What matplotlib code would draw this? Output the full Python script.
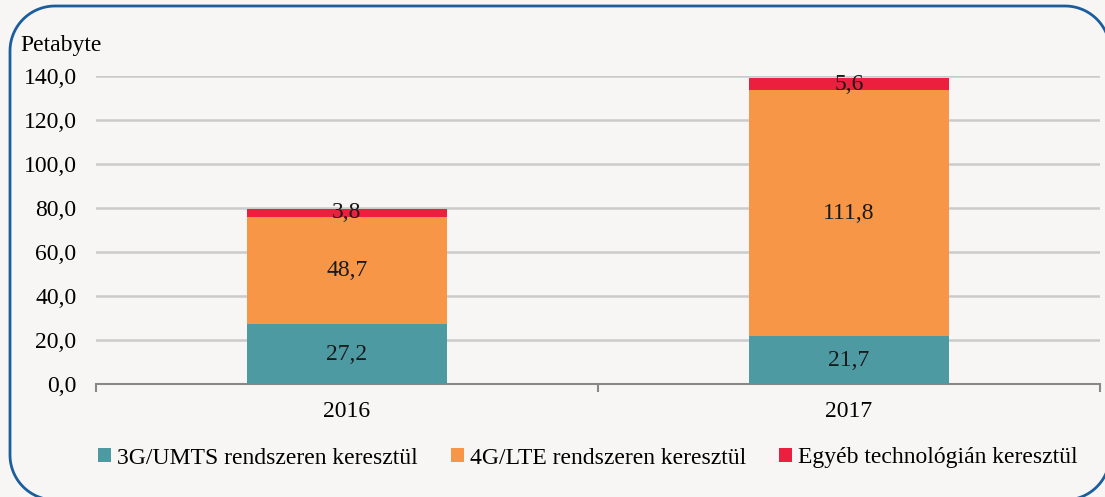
import matplotlib
matplotlib.use('Agg')
import matplotlib.pyplot as plt
from matplotlib.lines import Line2D
from matplotlib.transforms import IdentityTransform
import numpy as np

years = ['2016', '2017']
umts = [27.2, 21.7]
lte = [48.7, 111.8]
other = [3.8, 5.6]
series_names = ['3G/UMTS rendszeren keresztül', '4G/LTE rendszeren keresztül',
                'Egyéb technológián keresztül']
colors = ['#4E9AA2', '#F79646', '#ED1F3E']
yticks = [0, 20, 40, 60, 80, 100, 120, 140]

BG = '#F7F6F4'
FS = 17
plt.rcParams['font.family'] = ['Liberation Serif', 'DejaVu Serif']

W, H = 1105, 497
fig = plt.figure(figsize=(W / 100, H / 100), dpi=100, facecolor=BG)
ax = fig.add_axes([96 / W, 1 - 384 / H, (1100 - 96) / W, (384 - 76) / H])
ax.set_facecolor(BG)

x = np.arange(len(years))
bottoms = np.zeros(len(years))
for vals, col, name in zip([umts, lte, other], colors, series_names):
    vals = np.array(vals)
    ax.bar(x, vals, 0.4, bottom=bottoms, color=col, label=name, zorder=3)
    for xi, b, v in zip(x, bottoms, vals):
        ax.text(xi, b + v / 2, f'{v:.1f}'.replace('.', ','), ha='center', va='center',
                fontsize=FS, color='#1a1a1a', zorder=4)
    bottoms += vals

ax.set_xlim(-0.5, 1.5)
ax.set_ylim(0, 140)
ax.set_yticks(yticks)
ax.set_yticklabels([f'{v:.1f}'.replace('.', ',') for v in yticks], fontsize=FS)
ax.tick_params(axis='y', length=0, pad=14)
ax.grid(axis='y', color='#CBCBCB', linewidth=1.8, zorder=0)

# category separator ticks on x axis, labels in between
ax.set_xticks([-0.5, 0.5, 1.5])
ax.set_xticklabels([])
ax.set_xticks(x, minor=True)
ax.set_xticklabels(years, minor=True, fontsize=FS)
ax.tick_params(axis='x', which='major', length=6, width=1.5, color='#888888', direction='out')
ax.tick_params(axis='x', which='minor', length=0, pad=12)

for s in ['top', 'right', 'left']:
    ax.spines[s].set_visible(False)
ax.spines['bottom'].set_color('#888888')
ax.spines['bottom'].set_linewidth(1.5)

fig.text(20 / W, 1 - 45 / H, 'Petabyte', fontsize=FS, ha='left', va='center')

leg = fig.legend(loc='center', bbox_to_anchor=(0.532, 1 - 458 / H), ncol=3,
                 frameon=False, fontsize=FS, handlelength=0.55, handleheight=0.55,
                 handletextpad=0.25, columnspacing=1.4)

# rounded frame in pixel coords (y up), running off the right and bottom edges
x0, x1, y0, y1, r = 10, 1110, H - 500, H - 6, 45
corners = [(x1 - r, y1 - r, 0), (x0 + r, y1 - r, 90), (x0 + r, y0 + r, 180), (x1 - r, y0 + r, 270)]
px, py = [], []
for cx, cy, a0 in corners:
    t = np.radians(np.linspace(a0, a0 + 90, 30))
    px.extend(cx + r * np.cos(t))
    py.extend(cy + r * np.sin(t))
px.append(px[0])
py.append(py[0])
fig.add_artist(Line2D(px, py, transform=IdentityTransform(), color='#1B5E9E',
                      linewidth=2, clip_on=False))

fig.savefig('out.png', dpi=100, facecolor=BG)
